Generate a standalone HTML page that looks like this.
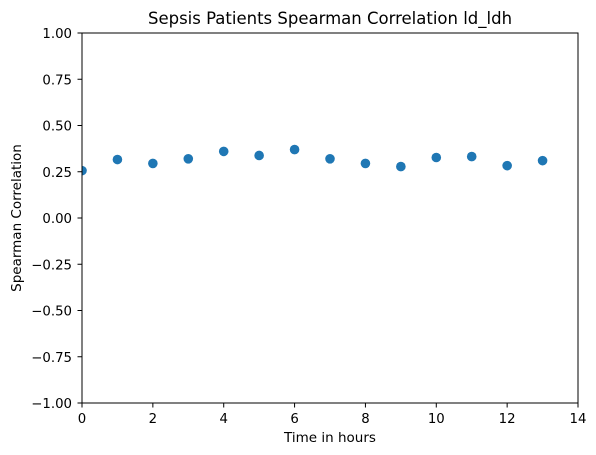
<!DOCTYPE html>
<html><head><meta charset="utf-8"><style>
body{margin:0;background:#fff;}
svg{display:block;font-family:"DejaVu Sans","Liberation Sans",sans-serif;}
</style></head><body>
<svg id="chart" width="596" height="455" viewBox="0 0 596 455">
<defs><clipPath id="clip"><rect x="82" y="33" width="496" height="370"/></clipPath></defs>
<rect width="596" height="455" fill="#fff"/>
<text x="330" y="24" text-anchor="middle" font-size="16.5">Sepsis Patients Spearman Correlation ld_ldh</text>
<g id="points" clip-path="url(#clip)"></g>
<g id="axes"></g>
<rect x="82" y="33" width="496" height="370" fill="none" stroke="#000" stroke-width="1"/>
<text x="330" y="442" text-anchor="middle" font-size="13.5">Time in hours</text>
<text transform="translate(21,218) rotate(-90)" text-anchor="middle" font-size="13.5">Spearman Correlation</text>
</svg>
<script>
const hours=[0,1,2,3,4,5,6,7,8,9,10,11,12,13];
const correlations=[0.256,0.316,0.295,0.32,0.36,0.338,0.37,0.32,0.295,0.278,0.327,0.332,0.283,0.31];
const xTicks=[0,2,4,6,8,10,12,14];
const yTicks=[-1,-0.75,-0.5,-0.25,0,0.25,0.5,0.75,1];
const NS="http://www.w3.org/2000/svg";
const L=82,R=578,T=33,B=403;
const xs=v=>L+(v-0)/(14-0)*(R-L);
const ys=v=>B-(v+1)/2*(B-T);
const pts=document.getElementById('points');
hours.forEach((h,i)=>{
 const c=document.createElementNS(NS,'circle');
 c.setAttribute('cx',xs(h));c.setAttribute('cy',ys(correlations[i]));c.setAttribute('r',4.8);c.setAttribute('fill','#1f77b4');
 
 
 pts.appendChild(c);
});
const ax=document.getElementById('axes');
xTicks.forEach(t=>{
 const l=document.createElementNS(NS,'line');
 l.setAttribute('x1',xs(t));l.setAttribute('x2',xs(t));l.setAttribute('y1',B);l.setAttribute('y2',B+4.5);l.setAttribute('stroke','#000');
 
 
 ax.appendChild(l);
 const tx=document.createElementNS(NS,'text');
 tx.setAttribute('x',xs(t));tx.setAttribute('y',B+20);tx.setAttribute('text-anchor','middle');tx.setAttribute('font-size','13.3');tx.textContent=t;
 
 
 ax.appendChild(tx);
});
yTicks.forEach(t=>{
 const l=document.createElementNS(NS,'line');
 l.setAttribute('x1',L-4.5);l.setAttribute('x2',L);l.setAttribute('y1',ys(t));l.setAttribute('y2',ys(t));l.setAttribute('stroke','#000');
 
 
 ax.appendChild(l);
 const tx=document.createElementNS(NS,'text');
 tx.setAttribute('x',L-10);tx.setAttribute('y',ys(t)+5);tx.setAttribute('text-anchor','end');tx.setAttribute('font-size','13.3');tx.textContent=(t<0?'\u2212':'')+Math.abs(t).toFixed(2);
 
 
 ax.appendChild(tx);
});
</script>
</body></html>
